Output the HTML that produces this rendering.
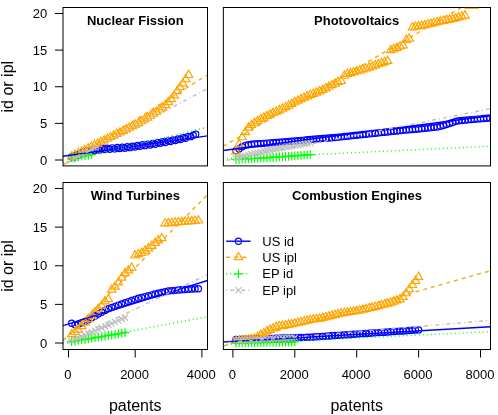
<!DOCTYPE html>
<html><head><meta charset="utf-8"><title>chart</title>
<style>html,body{margin:0;padding:0;background:#fff;}body{width:498px;height:415px;overflow:hidden;position:relative;font-family:"Liberation Sans",sans-serif;}</style>
</head><body>
<svg width="498" height="415" viewBox="0 0 498 415" style="position:absolute;left:0;top:0;will-change:transform" font-family="Liberation Sans, sans-serif">
<rect width="498" height="415" fill="#fff"/>
<defs>
<clipPath id="c0"><rect x="63.0" y="7.5" width="144.5" height="158.4"/></clipPath>
<clipPath id="c1"><rect x="223.35" y="7.5" width="267.15" height="158.4"/></clipPath>
<clipPath id="c2"><rect x="63.0" y="182.5" width="144.5" height="167.0"/></clipPath>
<clipPath id="c3"><rect x="223.35" y="182.5" width="267.15" height="167.0"/></clipPath>
</defs>
<g clip-path="url(#c0)" stroke-width="1.2">
<circle cx="71.70" cy="156.70" r="3.10" fill="none" stroke="#0000ff"/>
<circle cx="74.23" cy="156.89" r="3.10" fill="none" stroke="#0000ff"/>
<circle cx="76.76" cy="154.69" r="3.10" fill="none" stroke="#0000ff"/>
<circle cx="79.29" cy="154.88" r="3.10" fill="none" stroke="#0000ff"/>
<circle cx="81.82" cy="152.78" r="3.10" fill="none" stroke="#0000ff"/>
<circle cx="84.35" cy="153.12" r="3.10" fill="none" stroke="#0000ff"/>
<circle cx="86.88" cy="151.06" r="3.10" fill="none" stroke="#0000ff"/>
<circle cx="89.41" cy="151.40" r="3.10" fill="none" stroke="#0000ff"/>
<circle cx="91.94" cy="149.76" r="3.10" fill="none" stroke="#0000ff"/>
<circle cx="94.48" cy="150.64" r="3.10" fill="none" stroke="#0000ff"/>
<circle cx="97.01" cy="149.12" r="3.10" fill="none" stroke="#0000ff"/>
<circle cx="99.54" cy="150.01" r="3.10" fill="none" stroke="#0000ff"/>
<circle cx="102.07" cy="148.50" r="3.10" fill="none" stroke="#0000ff"/>
<circle cx="104.60" cy="149.54" r="3.10" fill="none" stroke="#0000ff"/>
<circle cx="107.13" cy="148.18" r="3.10" fill="none" stroke="#0000ff"/>
<circle cx="109.66" cy="149.22" r="3.10" fill="none" stroke="#0000ff"/>
<circle cx="112.19" cy="147.86" r="3.10" fill="none" stroke="#0000ff"/>
<circle cx="114.72" cy="148.90" r="3.10" fill="none" stroke="#0000ff"/>
<circle cx="117.25" cy="147.55" r="3.10" fill="none" stroke="#0000ff"/>
<circle cx="119.78" cy="148.59" r="3.10" fill="none" stroke="#0000ff"/>
<circle cx="122.31" cy="147.23" r="3.10" fill="none" stroke="#0000ff"/>
<circle cx="124.84" cy="148.27" r="3.10" fill="none" stroke="#0000ff"/>
<circle cx="127.37" cy="146.82" r="3.10" fill="none" stroke="#0000ff"/>
<circle cx="129.90" cy="147.67" r="3.10" fill="none" stroke="#0000ff"/>
<circle cx="132.43" cy="146.13" r="3.10" fill="none" stroke="#0000ff"/>
<circle cx="134.97" cy="146.99" r="3.10" fill="none" stroke="#0000ff"/>
<circle cx="137.50" cy="145.45" r="3.10" fill="none" stroke="#0000ff"/>
<circle cx="140.03" cy="146.31" r="3.10" fill="none" stroke="#0000ff"/>
<circle cx="142.56" cy="144.77" r="3.10" fill="none" stroke="#0000ff"/>
<circle cx="145.09" cy="145.63" r="3.10" fill="none" stroke="#0000ff"/>
<circle cx="147.62" cy="144.09" r="3.10" fill="none" stroke="#0000ff"/>
<circle cx="150.15" cy="144.95" r="3.10" fill="none" stroke="#0000ff"/>
<circle cx="152.68" cy="143.39" r="3.10" fill="none" stroke="#0000ff"/>
<circle cx="155.21" cy="144.18" r="3.10" fill="none" stroke="#0000ff"/>
<circle cx="157.74" cy="142.57" r="3.10" fill="none" stroke="#0000ff"/>
<circle cx="160.27" cy="143.36" r="3.10" fill="none" stroke="#0000ff"/>
<circle cx="162.80" cy="141.76" r="3.10" fill="none" stroke="#0000ff"/>
<circle cx="165.33" cy="142.54" r="3.10" fill="none" stroke="#0000ff"/>
<circle cx="167.86" cy="140.85" r="3.10" fill="none" stroke="#0000ff"/>
<circle cx="170.39" cy="141.56" r="3.10" fill="none" stroke="#0000ff"/>
<circle cx="172.92" cy="139.88" r="3.10" fill="none" stroke="#0000ff"/>
<circle cx="175.46" cy="140.59" r="3.10" fill="none" stroke="#0000ff"/>
<circle cx="177.99" cy="138.90" r="3.10" fill="none" stroke="#0000ff"/>
<circle cx="180.52" cy="139.47" r="3.10" fill="none" stroke="#0000ff"/>
<circle cx="183.05" cy="137.64" r="3.10" fill="none" stroke="#0000ff"/>
<circle cx="185.58" cy="138.21" r="3.10" fill="none" stroke="#0000ff"/>
<circle cx="188.11" cy="136.37" r="3.10" fill="none" stroke="#0000ff"/>
<circle cx="190.64" cy="136.67" r="3.10" fill="none" stroke="#0000ff"/>
<circle cx="193.17" cy="135.14" r="3.10" fill="none" stroke="#0000ff"/>
<circle cx="195.70" cy="134.20" r="3.10" fill="none" stroke="#0000ff"/>
<path d="M71.70 151.69L75.86 158.90L67.54 158.90Z" fill="none" stroke="#ffa500"/>
<path d="M75.00 150.07L79.17 157.28L70.84 157.28Z" fill="none" stroke="#ffa500"/>
<path d="M78.29 148.45L82.45 155.66L74.13 155.66Z" fill="none" stroke="#ffa500"/>
<path d="M81.57 146.84L85.73 154.05L77.40 154.05Z" fill="none" stroke="#ffa500"/>
<path d="M84.83 145.23L89.00 152.45L80.67 152.45Z" fill="none" stroke="#ffa500"/>
<path d="M88.09 143.63L92.25 150.85L83.92 150.85Z" fill="none" stroke="#ffa500"/>
<path d="M91.33 142.04L95.49 149.25L87.16 149.25Z" fill="none" stroke="#ffa500"/>
<path d="M94.55 140.46L98.72 147.67L90.39 147.67Z" fill="none" stroke="#ffa500"/>
<path d="M97.77 138.88L101.93 146.10L93.61 146.10Z" fill="none" stroke="#ffa500"/>
<path d="M100.97 137.30L105.14 144.51L96.81 144.51Z" fill="none" stroke="#ffa500"/>
<path d="M104.17 135.68L108.33 142.89L100.00 142.89Z" fill="none" stroke="#ffa500"/>
<path d="M107.35 134.06L111.51 141.27L103.18 141.27Z" fill="none" stroke="#ffa500"/>
<path d="M110.51 132.45L114.68 139.67L106.35 139.67Z" fill="none" stroke="#ffa500"/>
<path d="M113.67 130.86L117.83 138.07L109.51 138.07Z" fill="none" stroke="#ffa500"/>
<path d="M116.81 129.29L120.98 136.50L112.65 136.50Z" fill="none" stroke="#ffa500"/>
<path d="M119.94 127.72L124.11 134.93L115.78 134.93Z" fill="none" stroke="#ffa500"/>
<path d="M123.06 126.16L127.23 133.37L118.90 133.37Z" fill="none" stroke="#ffa500"/>
<path d="M126.17 124.61L130.33 131.82L122.01 131.82Z" fill="none" stroke="#ffa500"/>
<path d="M129.26 123.03L133.43 130.25L125.10 130.25Z" fill="none" stroke="#ffa500"/>
<path d="M132.35 121.47L136.51 128.68L128.18 128.68Z" fill="none" stroke="#ffa500"/>
<path d="M135.42 119.91L139.58 127.12L131.25 127.12Z" fill="none" stroke="#ffa500"/>
<path d="M138.47 118.36L142.64 125.57L134.31 125.57Z" fill="none" stroke="#ffa500"/>
<path d="M141.52 116.56L145.68 123.77L137.36 123.77Z" fill="none" stroke="#ffa500"/>
<path d="M144.55 114.72L148.72 121.93L140.39 121.93Z" fill="none" stroke="#ffa500"/>
<path d="M147.58 112.88L151.74 120.09L143.41 120.09Z" fill="none" stroke="#ffa500"/>
<path d="M150.59 111.05L154.75 118.26L146.42 118.26Z" fill="none" stroke="#ffa500"/>
<path d="M153.58 109.06L157.75 116.27L149.42 116.27Z" fill="none" stroke="#ffa500"/>
<path d="M156.57 106.92L160.73 114.14L152.40 114.14Z" fill="none" stroke="#ffa500"/>
<path d="M159.54 104.80L163.70 112.01L155.38 112.01Z" fill="none" stroke="#ffa500"/>
<path d="M162.50 102.68L166.67 109.89L158.34 109.89Z" fill="none" stroke="#ffa500"/>
<path d="M165.45 100.43L169.61 107.64L161.29 107.64Z" fill="none" stroke="#ffa500"/>
<path d="M168.39 97.42L172.55 104.63L164.22 104.63Z" fill="none" stroke="#ffa500"/>
<path d="M171.31 94.42L175.47 101.63L167.15 101.63Z" fill="none" stroke="#ffa500"/>
<path d="M174.22 90.73L178.39 97.94L170.06 97.94Z" fill="none" stroke="#ffa500"/>
<path d="M177.12 86.33L181.29 93.54L172.96 93.54Z" fill="none" stroke="#ffa500"/>
<path d="M180.01 82.40L184.17 89.61L175.85 89.61Z" fill="none" stroke="#ffa500"/>
<path d="M182.89 78.70L187.05 85.91L178.72 85.91Z" fill="none" stroke="#ffa500"/>
<path d="M185.75 74.52L189.91 81.73L181.58 81.73Z" fill="none" stroke="#ffa500"/>
<path d="M188.60 70.29L192.76 77.50L184.44 77.50Z" fill="none" stroke="#ffa500"/>
<path d="M67.30 157.80H76.07M71.68 153.42V162.18" fill="none" stroke="#00ff00"/>
<path d="M70.64 157.25H79.40M75.02 152.87V161.64" fill="none" stroke="#00ff00"/>
<path d="M73.97 156.70H82.74M78.35 152.32V161.09" fill="none" stroke="#00ff00"/>
<path d="M77.31 156.15H86.07M81.69 151.77V160.54" fill="none" stroke="#00ff00"/>
<path d="M80.64 155.60H89.41M85.02 151.22V159.99" fill="none" stroke="#00ff00"/>
<path d="M83.98 155.05H92.74M88.36 150.67V159.44" fill="none" stroke="#00ff00"/>
<path d="M87.31 154.50H96.08M91.69 150.12V158.88" fill="none" stroke="#00ff00"/>
<path d="M68.58 156.50L74.78 162.70M68.58 162.70L74.78 156.50" fill="none" stroke="#bebebe"/>
<path d="M71.92 154.82L78.12 161.02M71.92 161.02L78.12 154.82" fill="none" stroke="#bebebe"/>
<path d="M75.25 153.13L81.45 159.33M75.25 159.33L81.45 153.13" fill="none" stroke="#bebebe"/>
<path d="M78.59 151.44L84.79 157.64M78.59 157.64L84.79 151.44" fill="none" stroke="#bebebe"/>
<path d="M81.92 149.75L88.12 155.95M81.92 155.95L88.12 149.75" fill="none" stroke="#bebebe"/>
<path d="M85.26 148.06L91.46 154.26M85.26 154.26L91.46 148.06" fill="none" stroke="#bebebe"/>
<path d="M88.59 146.37L94.79 152.57M88.59 152.57L94.79 146.37" fill="none" stroke="#bebebe"/>
<path d="M91.93 144.70L98.13 150.90M91.93 150.90L98.13 144.70" fill="none" stroke="#bebebe"/>
<path d="M63.00 156.30L207.50 135.90" fill="none" stroke="#0000ff" stroke-width="1.4"/>
<path d="M63.00 165.00L207.50 74.80" fill="none" stroke="#ffa500" stroke-width="1.4" stroke-dasharray="4 4"/>
<path d="M63.00 162.50L207.50 127.10" fill="none" stroke="#00ff00" stroke-width="1.4" stroke-dasharray="1 3"/>
<path d="M63.00 164.90L207.50 88.60" fill="none" stroke="#bebebe" stroke-width="1.4" stroke-dasharray="1 3 4 3"/>
</g>
<g clip-path="url(#c1)" stroke-width="1.2">
<circle cx="236.00" cy="150.80" r="3.10" fill="none" stroke="#0000ff"/>
<circle cx="239.09" cy="148.88" r="3.10" fill="none" stroke="#0000ff"/>
<circle cx="242.19" cy="146.70" r="3.10" fill="none" stroke="#0000ff"/>
<circle cx="245.28" cy="145.35" r="3.10" fill="none" stroke="#0000ff"/>
<circle cx="248.38" cy="144.68" r="3.10" fill="none" stroke="#0000ff"/>
<circle cx="251.47" cy="144.29" r="3.10" fill="none" stroke="#0000ff"/>
<circle cx="254.56" cy="144.05" r="3.10" fill="none" stroke="#0000ff"/>
<circle cx="257.66" cy="143.81" r="3.10" fill="none" stroke="#0000ff"/>
<circle cx="260.75" cy="143.58" r="3.10" fill="none" stroke="#0000ff"/>
<circle cx="263.85" cy="143.34" r="3.10" fill="none" stroke="#0000ff"/>
<circle cx="266.94" cy="143.10" r="3.10" fill="none" stroke="#0000ff"/>
<circle cx="270.04" cy="142.87" r="3.10" fill="none" stroke="#0000ff"/>
<circle cx="273.13" cy="142.62" r="3.10" fill="none" stroke="#0000ff"/>
<circle cx="276.23" cy="142.38" r="3.10" fill="none" stroke="#0000ff"/>
<circle cx="279.32" cy="142.13" r="3.10" fill="none" stroke="#0000ff"/>
<circle cx="282.42" cy="141.89" r="3.10" fill="none" stroke="#0000ff"/>
<circle cx="285.51" cy="141.64" r="3.10" fill="none" stroke="#0000ff"/>
<circle cx="288.61" cy="141.40" r="3.10" fill="none" stroke="#0000ff"/>
<circle cx="291.70" cy="141.16" r="3.10" fill="none" stroke="#0000ff"/>
<circle cx="294.80" cy="140.91" r="3.10" fill="none" stroke="#0000ff"/>
<circle cx="297.89" cy="140.67" r="3.10" fill="none" stroke="#0000ff"/>
<circle cx="300.99" cy="140.41" r="3.10" fill="none" stroke="#0000ff"/>
<circle cx="304.09" cy="140.11" r="3.10" fill="none" stroke="#0000ff"/>
<circle cx="307.18" cy="139.82" r="3.10" fill="none" stroke="#0000ff"/>
<circle cx="310.27" cy="139.52" r="3.10" fill="none" stroke="#0000ff"/>
<circle cx="313.37" cy="139.23" r="3.10" fill="none" stroke="#0000ff"/>
<circle cx="316.47" cy="138.94" r="3.10" fill="none" stroke="#0000ff"/>
<circle cx="319.56" cy="138.64" r="3.10" fill="none" stroke="#0000ff"/>
<circle cx="322.65" cy="138.41" r="3.10" fill="none" stroke="#0000ff"/>
<circle cx="325.75" cy="138.18" r="3.10" fill="none" stroke="#0000ff"/>
<circle cx="328.85" cy="137.95" r="3.10" fill="none" stroke="#0000ff"/>
<circle cx="331.94" cy="137.72" r="3.10" fill="none" stroke="#0000ff"/>
<circle cx="335.03" cy="137.50" r="3.10" fill="none" stroke="#0000ff"/>
<circle cx="338.13" cy="137.17" r="3.10" fill="none" stroke="#0000ff"/>
<circle cx="341.23" cy="136.84" r="3.10" fill="none" stroke="#0000ff"/>
<circle cx="344.32" cy="136.51" r="3.10" fill="none" stroke="#0000ff"/>
<circle cx="347.42" cy="136.19" r="3.10" fill="none" stroke="#0000ff"/>
<circle cx="350.51" cy="135.86" r="3.10" fill="none" stroke="#0000ff"/>
<circle cx="353.61" cy="135.53" r="3.10" fill="none" stroke="#0000ff"/>
<circle cx="356.70" cy="135.20" r="3.10" fill="none" stroke="#0000ff"/>
<circle cx="359.80" cy="134.88" r="3.10" fill="none" stroke="#0000ff"/>
<circle cx="362.89" cy="134.55" r="3.10" fill="none" stroke="#0000ff"/>
<circle cx="365.99" cy="134.22" r="3.10" fill="none" stroke="#0000ff"/>
<circle cx="369.08" cy="133.90" r="3.10" fill="none" stroke="#0000ff"/>
<circle cx="372.18" cy="133.57" r="3.10" fill="none" stroke="#0000ff"/>
<circle cx="375.27" cy="133.24" r="3.10" fill="none" stroke="#0000ff"/>
<circle cx="378.37" cy="132.91" r="3.10" fill="none" stroke="#0000ff"/>
<circle cx="381.46" cy="132.59" r="3.10" fill="none" stroke="#0000ff"/>
<circle cx="384.56" cy="132.26" r="3.10" fill="none" stroke="#0000ff"/>
<circle cx="387.65" cy="131.93" r="3.10" fill="none" stroke="#0000ff"/>
<circle cx="390.75" cy="131.60" r="3.10" fill="none" stroke="#0000ff"/>
<circle cx="393.84" cy="131.28" r="3.10" fill="none" stroke="#0000ff"/>
<circle cx="396.94" cy="130.95" r="3.10" fill="none" stroke="#0000ff"/>
<circle cx="400.03" cy="130.66" r="3.10" fill="none" stroke="#0000ff"/>
<circle cx="403.12" cy="130.37" r="3.10" fill="none" stroke="#0000ff"/>
<circle cx="406.22" cy="130.09" r="3.10" fill="none" stroke="#0000ff"/>
<circle cx="409.31" cy="129.80" r="3.10" fill="none" stroke="#0000ff"/>
<circle cx="412.41" cy="129.52" r="3.10" fill="none" stroke="#0000ff"/>
<circle cx="415.50" cy="129.23" r="3.10" fill="none" stroke="#0000ff"/>
<circle cx="418.60" cy="128.95" r="3.10" fill="none" stroke="#0000ff"/>
<circle cx="421.69" cy="128.63" r="3.10" fill="none" stroke="#0000ff"/>
<circle cx="424.79" cy="128.30" r="3.10" fill="none" stroke="#0000ff"/>
<circle cx="427.88" cy="127.98" r="3.10" fill="none" stroke="#0000ff"/>
<circle cx="430.98" cy="127.65" r="3.10" fill="none" stroke="#0000ff"/>
<circle cx="434.07" cy="127.33" r="3.10" fill="none" stroke="#0000ff"/>
<circle cx="437.17" cy="127.00" r="3.10" fill="none" stroke="#0000ff"/>
<circle cx="440.26" cy="126.23" r="3.10" fill="none" stroke="#0000ff"/>
<circle cx="443.36" cy="125.45" r="3.10" fill="none" stroke="#0000ff"/>
<circle cx="446.45" cy="124.51" r="3.10" fill="none" stroke="#0000ff"/>
<circle cx="449.55" cy="123.56" r="3.10" fill="none" stroke="#0000ff"/>
<circle cx="452.64" cy="122.48" r="3.10" fill="none" stroke="#0000ff"/>
<circle cx="455.74" cy="121.36" r="3.10" fill="none" stroke="#0000ff"/>
<circle cx="458.83" cy="120.73" r="3.10" fill="none" stroke="#0000ff"/>
<circle cx="461.93" cy="120.44" r="3.10" fill="none" stroke="#0000ff"/>
<circle cx="465.02" cy="120.16" r="3.10" fill="none" stroke="#0000ff"/>
<circle cx="468.12" cy="119.87" r="3.10" fill="none" stroke="#0000ff"/>
<circle cx="471.22" cy="119.60" r="3.10" fill="none" stroke="#0000ff"/>
<circle cx="474.31" cy="119.34" r="3.10" fill="none" stroke="#0000ff"/>
<circle cx="477.40" cy="119.08" r="3.10" fill="none" stroke="#0000ff"/>
<circle cx="480.50" cy="118.83" r="3.10" fill="none" stroke="#0000ff"/>
<circle cx="483.60" cy="118.57" r="3.10" fill="none" stroke="#0000ff"/>
<circle cx="486.69" cy="118.31" r="3.10" fill="none" stroke="#0000ff"/>
<circle cx="489.78" cy="118.02" r="3.10" fill="none" stroke="#0000ff"/>
<path d="M236.00 146.69L240.16 153.90L231.83 153.90Z" fill="none" stroke="#ffa500"/>
<path d="M239.09 139.49L243.25 146.70L234.93 146.70Z" fill="none" stroke="#ffa500"/>
<path d="M242.19 132.55L246.35 139.76L238.02 139.76Z" fill="none" stroke="#ffa500"/>
<path d="M245.28 127.36L249.44 134.57L241.12 134.57Z" fill="none" stroke="#ffa500"/>
<path d="M248.38 122.89L252.54 130.10L244.21 130.10Z" fill="none" stroke="#ffa500"/>
<path d="M251.47 120.09L255.63 127.30L247.31 127.30Z" fill="none" stroke="#ffa500"/>
<path d="M254.56 118.19L258.73 125.40L250.40 125.40Z" fill="none" stroke="#ffa500"/>
<path d="M257.66 116.29L261.82 123.50L253.50 123.50Z" fill="none" stroke="#ffa500"/>
<path d="M260.75 114.45L264.92 121.66L256.59 121.66Z" fill="none" stroke="#ffa500"/>
<path d="M263.85 112.84L268.01 120.05L259.69 120.05Z" fill="none" stroke="#ffa500"/>
<path d="M266.94 111.23L271.11 118.44L262.78 118.44Z" fill="none" stroke="#ffa500"/>
<path d="M270.04 109.62L274.20 116.84L265.88 116.84Z" fill="none" stroke="#ffa500"/>
<path d="M273.13 108.27L277.30 115.48L268.97 115.48Z" fill="none" stroke="#ffa500"/>
<path d="M276.23 106.92L280.39 114.13L272.07 114.13Z" fill="none" stroke="#ffa500"/>
<path d="M279.32 105.57L283.49 112.79L275.16 112.79Z" fill="none" stroke="#ffa500"/>
<path d="M282.42 104.04L286.58 111.25L278.26 111.25Z" fill="none" stroke="#ffa500"/>
<path d="M285.51 102.43L289.68 109.64L281.35 109.64Z" fill="none" stroke="#ffa500"/>
<path d="M288.61 100.82L292.77 108.03L284.45 108.03Z" fill="none" stroke="#ffa500"/>
<path d="M291.70 99.19L295.87 106.41L287.54 106.41Z" fill="none" stroke="#ffa500"/>
<path d="M294.80 97.55L298.96 104.77L290.64 104.77Z" fill="none" stroke="#ffa500"/>
<path d="M297.89 95.91L302.06 103.13L293.73 103.13Z" fill="none" stroke="#ffa500"/>
<path d="M300.99 94.35L305.15 101.56L296.83 101.56Z" fill="none" stroke="#ffa500"/>
<path d="M304.09 93.00L308.25 100.21L299.92 100.21Z" fill="none" stroke="#ffa500"/>
<path d="M307.18 91.65L311.34 98.86L303.02 98.86Z" fill="none" stroke="#ffa500"/>
<path d="M310.27 90.30L314.44 97.52L306.11 97.52Z" fill="none" stroke="#ffa500"/>
<path d="M313.37 89.06L317.53 96.28L309.21 96.28Z" fill="none" stroke="#ffa500"/>
<path d="M316.47 87.83L320.63 95.04L312.30 95.04Z" fill="none" stroke="#ffa500"/>
<path d="M319.56 86.59L323.72 93.80L315.40 93.80Z" fill="none" stroke="#ffa500"/>
<path d="M322.65 85.13L326.82 92.34L318.49 92.34Z" fill="none" stroke="#ffa500"/>
<path d="M325.75 83.59L329.91 90.81L321.59 90.81Z" fill="none" stroke="#ffa500"/>
<path d="M328.85 82.06L333.01 89.27L324.68 89.27Z" fill="none" stroke="#ffa500"/>
<path d="M331.94 80.49L336.10 87.70L327.78 87.70Z" fill="none" stroke="#ffa500"/>
<path d="M335.03 78.88L339.20 86.09L330.87 86.09Z" fill="none" stroke="#ffa500"/>
<path d="M338.13 77.27L342.29 84.48L333.97 84.48Z" fill="none" stroke="#ffa500"/>
<path d="M341.23 76.29L345.39 83.50L337.06 83.50Z" fill="none" stroke="#ffa500"/>
<path d="M344.32 71.01L348.48 78.23L340.16 78.23Z" fill="none" stroke="#ffa500"/>
<path d="M347.42 69.31L351.58 76.52L343.25 76.52Z" fill="none" stroke="#ffa500"/>
<path d="M350.51 68.39L354.67 75.60L346.35 75.60Z" fill="none" stroke="#ffa500"/>
<path d="M353.61 67.46L357.77 74.68L349.44 74.68Z" fill="none" stroke="#ffa500"/>
<path d="M356.70 66.54L360.86 73.75L352.54 73.75Z" fill="none" stroke="#ffa500"/>
<path d="M359.80 65.62L363.96 72.83L355.63 72.83Z" fill="none" stroke="#ffa500"/>
<path d="M362.89 64.69L367.05 71.91L358.73 71.91Z" fill="none" stroke="#ffa500"/>
<path d="M365.99 63.77L370.15 70.98L361.82 70.98Z" fill="none" stroke="#ffa500"/>
<path d="M369.08 62.82L373.24 70.03L364.92 70.03Z" fill="none" stroke="#ffa500"/>
<path d="M372.18 61.73L376.34 68.94L368.01 68.94Z" fill="none" stroke="#ffa500"/>
<path d="M375.27 60.63L379.43 67.84L371.11 67.84Z" fill="none" stroke="#ffa500"/>
<path d="M378.37 59.54L382.53 66.75L374.20 66.75Z" fill="none" stroke="#ffa500"/>
<path d="M381.46 58.44L385.62 65.65L377.30 65.65Z" fill="none" stroke="#ffa500"/>
<path d="M384.56 57.35L388.72 64.56L380.39 64.56Z" fill="none" stroke="#ffa500"/>
<path d="M387.65 56.25L391.81 63.46L383.49 63.46Z" fill="none" stroke="#ffa500"/>
<path d="M390.75 45.35L394.91 52.56L386.58 52.56Z" fill="none" stroke="#ffa500"/>
<path d="M393.84 44.56L398.00 51.77L389.68 51.77Z" fill="none" stroke="#ffa500"/>
<path d="M396.94 43.17L401.10 50.39L392.77 50.39Z" fill="none" stroke="#ffa500"/>
<path d="M400.03 41.63L404.19 48.84L395.87 48.84Z" fill="none" stroke="#ffa500"/>
<path d="M403.12 40.79L407.29 48.00L398.96 48.00Z" fill="none" stroke="#ffa500"/>
<path d="M406.22 35.08L410.38 42.29L402.06 42.29Z" fill="none" stroke="#ffa500"/>
<path d="M409.31 33.81L413.48 41.03L405.15 41.03Z" fill="none" stroke="#ffa500"/>
<path d="M412.41 22.59L416.57 29.80L408.25 29.80Z" fill="none" stroke="#ffa500"/>
<path d="M415.50 22.06L419.67 29.27L411.34 29.27Z" fill="none" stroke="#ffa500"/>
<path d="M418.60 21.53L422.76 28.74L414.44 28.74Z" fill="none" stroke="#ffa500"/>
<path d="M421.69 21.00L425.86 28.21L417.53 28.21Z" fill="none" stroke="#ffa500"/>
<path d="M424.79 20.46L428.95 27.68L420.63 27.68Z" fill="none" stroke="#ffa500"/>
<path d="M427.88 19.77L432.05 26.98L423.72 26.98Z" fill="none" stroke="#ffa500"/>
<path d="M430.98 19.00L435.14 26.21L426.82 26.21Z" fill="none" stroke="#ffa500"/>
<path d="M434.07 18.22L438.24 25.44L429.91 25.44Z" fill="none" stroke="#ffa500"/>
<path d="M437.17 17.45L441.33 24.66L433.01 24.66Z" fill="none" stroke="#ffa500"/>
<path d="M440.26 16.68L444.43 23.89L436.10 23.89Z" fill="none" stroke="#ffa500"/>
<path d="M443.36 16.06L447.52 23.28L439.20 23.28Z" fill="none" stroke="#ffa500"/>
<path d="M446.45 15.45L450.62 22.66L442.29 22.66Z" fill="none" stroke="#ffa500"/>
<path d="M449.55 14.84L453.71 22.05L445.39 22.05Z" fill="none" stroke="#ffa500"/>
<path d="M452.64 14.20L456.81 21.41L448.48 21.41Z" fill="none" stroke="#ffa500"/>
<path d="M455.74 13.35L459.90 20.57L451.58 20.57Z" fill="none" stroke="#ffa500"/>
<path d="M458.83 12.51L463.00 19.72L454.67 19.72Z" fill="none" stroke="#ffa500"/>
<path d="M461.93 11.67L466.09 18.88L457.77 18.88Z" fill="none" stroke="#ffa500"/>
<path d="M465.02 10.82L469.19 18.03L460.86 18.03Z" fill="none" stroke="#ffa500"/>
<path d="M231.61 159.50H240.38M236.00 155.12V163.88" fill="none" stroke="#00ff00"/>
<path d="M234.71 159.33H243.47M239.09 154.95V163.72" fill="none" stroke="#00ff00"/>
<path d="M237.80 159.16H246.57M242.19 154.78V163.55" fill="none" stroke="#00ff00"/>
<path d="M240.90 158.99H249.66M245.28 154.61V163.38" fill="none" stroke="#00ff00"/>
<path d="M243.99 158.83H252.76M248.38 154.44V163.21" fill="none" stroke="#00ff00"/>
<path d="M247.09 158.66H255.85M251.47 154.27V163.04" fill="none" stroke="#00ff00"/>
<path d="M250.18 158.49H258.95M254.56 154.11V162.87" fill="none" stroke="#00ff00"/>
<path d="M253.28 158.32H262.04M257.66 153.94V162.70" fill="none" stroke="#00ff00"/>
<path d="M256.37 158.15H265.14M260.75 153.77V162.54" fill="none" stroke="#00ff00"/>
<path d="M259.47 157.98H268.23M263.85 153.60V162.37" fill="none" stroke="#00ff00"/>
<path d="M262.56 157.82H271.33M266.94 153.43V162.20" fill="none" stroke="#00ff00"/>
<path d="M265.66 157.65H274.42M270.04 153.26V162.03" fill="none" stroke="#00ff00"/>
<path d="M268.75 157.43H277.52M273.13 153.05V161.82" fill="none" stroke="#00ff00"/>
<path d="M271.85 157.20H280.61M276.23 152.82V161.59" fill="none" stroke="#00ff00"/>
<path d="M274.94 156.97H283.71M279.32 152.59V161.35" fill="none" stroke="#00ff00"/>
<path d="M278.04 156.74H286.80M282.42 152.35V161.12" fill="none" stroke="#00ff00"/>
<path d="M281.13 156.51H289.90M285.51 152.12V160.89" fill="none" stroke="#00ff00"/>
<path d="M284.23 156.28H292.99M288.61 151.89V160.66" fill="none" stroke="#00ff00"/>
<path d="M287.32 156.04H296.09M291.70 151.66V160.43" fill="none" stroke="#00ff00"/>
<path d="M290.42 155.81H299.18M294.80 151.43V160.20" fill="none" stroke="#00ff00"/>
<path d="M293.51 155.58H302.28M297.89 151.20V159.96" fill="none" stroke="#00ff00"/>
<path d="M296.61 155.35H305.37M300.99 150.96V159.73" fill="none" stroke="#00ff00"/>
<path d="M299.70 155.12H308.47M304.09 150.73V159.50" fill="none" stroke="#00ff00"/>
<path d="M302.80 154.89H311.56M307.18 150.50V159.27" fill="none" stroke="#00ff00"/>
<path d="M305.89 154.65H314.66M310.27 150.27V159.04" fill="none" stroke="#00ff00"/>
<path d="M232.90 155.20L239.09 161.40M232.90 161.40L239.09 155.20" fill="none" stroke="#bebebe"/>
<path d="M235.99 154.38L242.19 160.58M235.99 160.58L242.19 154.38" fill="none" stroke="#bebebe"/>
<path d="M239.09 153.57L245.28 159.77M239.09 159.77L245.28 153.57" fill="none" stroke="#bebebe"/>
<path d="M242.18 152.75L248.38 158.95M242.18 158.95L248.38 152.75" fill="none" stroke="#bebebe"/>
<path d="M245.28 151.93L251.47 158.13M245.28 158.13L251.47 151.93" fill="none" stroke="#bebebe"/>
<path d="M248.37 151.13L254.57 157.33M248.37 157.33L254.57 151.13" fill="none" stroke="#bebebe"/>
<path d="M251.47 150.36L257.67 156.56M251.47 156.56L257.67 150.36" fill="none" stroke="#bebebe"/>
<path d="M254.56 149.59L260.76 155.78M254.56 155.78L260.76 149.59" fill="none" stroke="#bebebe"/>
<path d="M257.65 148.81L263.86 155.01M257.65 155.01L263.86 148.81" fill="none" stroke="#bebebe"/>
<path d="M260.75 148.04L266.95 154.24M260.75 154.24L266.95 148.04" fill="none" stroke="#bebebe"/>
<path d="M263.84 147.26L270.05 153.46M263.84 153.46L270.05 147.26" fill="none" stroke="#bebebe"/>
<path d="M266.94 146.56L273.14 152.76M266.94 152.76L273.14 146.56" fill="none" stroke="#bebebe"/>
<path d="M270.03 146.03L276.24 152.23M270.03 152.23L276.24 146.03" fill="none" stroke="#bebebe"/>
<path d="M273.13 145.51L279.33 151.71M273.13 151.71L279.33 145.51" fill="none" stroke="#bebebe"/>
<path d="M276.22 144.98L282.43 151.18M276.22 151.18L282.43 144.98" fill="none" stroke="#bebebe"/>
<path d="M279.32 144.46L285.52 150.66M279.32 150.66L285.52 144.46" fill="none" stroke="#bebebe"/>
<path d="M282.41 143.93L288.62 150.13M282.41 150.13L288.62 143.93" fill="none" stroke="#bebebe"/>
<path d="M285.51 143.41L291.71 149.61M285.51 149.61L291.71 143.41" fill="none" stroke="#bebebe"/>
<path d="M288.60 142.89L294.81 149.09M288.60 149.09L294.81 142.89" fill="none" stroke="#bebebe"/>
<path d="M291.70 142.36L297.90 148.56M291.70 148.56L297.90 142.36" fill="none" stroke="#bebebe"/>
<path d="M294.79 141.84L301.00 148.04M294.79 148.04L301.00 141.84" fill="none" stroke="#bebebe"/>
<path d="M297.89 141.31L304.09 147.51M297.89 147.51L304.09 141.31" fill="none" stroke="#bebebe"/>
<path d="M300.99 140.79L307.19 146.99M300.99 146.99L307.19 140.79" fill="none" stroke="#bebebe"/>
<path d="M304.08 140.26L310.28 146.46M304.08 146.46L310.28 140.26" fill="none" stroke="#bebebe"/>
<path d="M307.17 139.74L313.38 145.94M307.17 145.94L313.38 139.74" fill="none" stroke="#bebebe"/>
<path d="M223.00 150.50L490.50 115.80" fill="none" stroke="#0000ff" stroke-width="1.4"/>
<path d="M223.00 146.30L490.50 -9.57" fill="none" stroke="#ffa500" stroke-width="1.4" stroke-dasharray="4 4"/>
<path d="M223.00 158.90L490.50 146.20" fill="none" stroke="#00ff00" stroke-width="1.4" stroke-dasharray="1 3"/>
<path d="M223.00 161.20L490.50 108.80" fill="none" stroke="#bebebe" stroke-width="1.4" stroke-dasharray="1 3 4 3"/>
</g>
<g clip-path="url(#c2)" stroke-width="1.2">
<circle cx="71.68" cy="323.24" r="3.10" fill="none" stroke="#0000ff"/>
<circle cx="75.02" cy="324.82" r="3.10" fill="none" stroke="#0000ff"/>
<circle cx="78.35" cy="323.91" r="3.10" fill="none" stroke="#0000ff"/>
<circle cx="81.69" cy="322.68" r="3.10" fill="none" stroke="#0000ff"/>
<circle cx="85.02" cy="321.43" r="3.10" fill="none" stroke="#0000ff"/>
<circle cx="88.36" cy="319.67" r="3.10" fill="none" stroke="#0000ff"/>
<circle cx="91.69" cy="317.74" r="3.10" fill="none" stroke="#0000ff"/>
<circle cx="95.03" cy="315.89" r="3.10" fill="none" stroke="#0000ff"/>
<circle cx="98.36" cy="314.06" r="3.10" fill="none" stroke="#0000ff"/>
<circle cx="101.70" cy="312.22" r="3.10" fill="none" stroke="#0000ff"/>
<circle cx="105.03" cy="310.39" r="3.10" fill="none" stroke="#0000ff"/>
<circle cx="108.37" cy="308.77" r="3.10" fill="none" stroke="#0000ff"/>
<circle cx="111.70" cy="307.55" r="3.10" fill="none" stroke="#0000ff"/>
<circle cx="115.04" cy="306.33" r="3.10" fill="none" stroke="#0000ff"/>
<circle cx="118.38" cy="305.10" r="3.10" fill="none" stroke="#0000ff"/>
<circle cx="121.71" cy="303.88" r="3.10" fill="none" stroke="#0000ff"/>
<circle cx="125.04" cy="302.74" r="3.10" fill="none" stroke="#0000ff"/>
<circle cx="128.38" cy="301.61" r="3.10" fill="none" stroke="#0000ff"/>
<circle cx="131.71" cy="300.49" r="3.10" fill="none" stroke="#0000ff"/>
<circle cx="135.05" cy="299.36" r="3.10" fill="none" stroke="#0000ff"/>
<circle cx="138.38" cy="298.32" r="3.10" fill="none" stroke="#0000ff"/>
<circle cx="141.72" cy="297.46" r="3.10" fill="none" stroke="#0000ff"/>
<circle cx="145.06" cy="296.60" r="3.10" fill="none" stroke="#0000ff"/>
<circle cx="148.39" cy="295.74" r="3.10" fill="none" stroke="#0000ff"/>
<circle cx="151.72" cy="294.87" r="3.10" fill="none" stroke="#0000ff"/>
<circle cx="155.06" cy="294.06" r="3.10" fill="none" stroke="#0000ff"/>
<circle cx="158.39" cy="293.26" r="3.10" fill="none" stroke="#0000ff"/>
<circle cx="161.73" cy="292.46" r="3.10" fill="none" stroke="#0000ff"/>
<circle cx="165.06" cy="291.66" r="3.10" fill="none" stroke="#0000ff"/>
<circle cx="168.40" cy="291.00" r="3.10" fill="none" stroke="#0000ff"/>
<circle cx="171.73" cy="290.67" r="3.10" fill="none" stroke="#0000ff"/>
<circle cx="175.07" cy="290.34" r="3.10" fill="none" stroke="#0000ff"/>
<circle cx="178.40" cy="290.01" r="3.10" fill="none" stroke="#0000ff"/>
<circle cx="181.74" cy="289.68" r="3.10" fill="none" stroke="#0000ff"/>
<circle cx="185.07" cy="289.46" r="3.10" fill="none" stroke="#0000ff"/>
<circle cx="188.41" cy="289.28" r="3.10" fill="none" stroke="#0000ff"/>
<circle cx="191.75" cy="289.10" r="3.10" fill="none" stroke="#0000ff"/>
<circle cx="195.08" cy="288.91" r="3.10" fill="none" stroke="#0000ff"/>
<circle cx="198.41" cy="288.73" r="3.10" fill="none" stroke="#0000ff"/>
<path d="M71.68 329.39L75.85 336.60L67.52 336.60Z" fill="none" stroke="#ffa500"/>
<path d="M75.02 327.28L79.18 334.49L70.86 334.49Z" fill="none" stroke="#ffa500"/>
<path d="M78.35 325.13L82.52 332.34L74.19 332.34Z" fill="none" stroke="#ffa500"/>
<path d="M81.69 321.40L85.85 328.61L77.53 328.61Z" fill="none" stroke="#ffa500"/>
<path d="M85.02 317.67L89.19 324.88L80.86 324.88Z" fill="none" stroke="#ffa500"/>
<path d="M88.36 314.43L92.52 321.64L84.20 321.64Z" fill="none" stroke="#ffa500"/>
<path d="M91.69 311.20L95.86 318.41L87.53 318.41Z" fill="none" stroke="#ffa500"/>
<path d="M95.03 307.40L99.19 314.61L90.87 314.61Z" fill="none" stroke="#ffa500"/>
<path d="M98.36 304.18L102.53 311.39L94.20 311.39Z" fill="none" stroke="#ffa500"/>
<path d="M101.70 300.98L105.86 308.19L97.54 308.19Z" fill="none" stroke="#ffa500"/>
<path d="M105.03 296.57L109.20 303.78L100.87 303.78Z" fill="none" stroke="#ffa500"/>
<path d="M108.37 294.45L112.53 301.67L104.21 301.67Z" fill="none" stroke="#ffa500"/>
<path d="M111.70 284.99L115.87 292.20L107.54 292.20Z" fill="none" stroke="#ffa500"/>
<path d="M115.04 281.85L119.20 289.06L110.88 289.06Z" fill="none" stroke="#ffa500"/>
<path d="M118.38 277.70L122.54 284.91L114.21 284.91Z" fill="none" stroke="#ffa500"/>
<path d="M121.71 272.91L125.87 280.13L117.55 280.13Z" fill="none" stroke="#ffa500"/>
<path d="M125.04 268.38L129.21 275.59L120.88 275.59Z" fill="none" stroke="#ffa500"/>
<path d="M128.38 265.71L132.54 272.92L124.22 272.92Z" fill="none" stroke="#ffa500"/>
<path d="M131.71 263.04L135.88 270.25L127.55 270.25Z" fill="none" stroke="#ffa500"/>
<path d="M135.05 250.77L139.21 257.98L130.89 257.98Z" fill="none" stroke="#ffa500"/>
<path d="M138.38 249.46L142.55 256.67L134.22 256.67Z" fill="none" stroke="#ffa500"/>
<path d="M141.72 248.11L145.88 255.32L137.56 255.32Z" fill="none" stroke="#ffa500"/>
<path d="M145.06 245.90L149.22 253.11L140.89 253.11Z" fill="none" stroke="#ffa500"/>
<path d="M148.39 243.69L152.55 250.90L144.23 250.90Z" fill="none" stroke="#ffa500"/>
<path d="M151.72 241.08L155.89 248.29L147.56 248.29Z" fill="none" stroke="#ffa500"/>
<path d="M155.06 238.13L159.22 245.34L150.90 245.34Z" fill="none" stroke="#ffa500"/>
<path d="M158.39 235.54L162.56 242.76L154.23 242.76Z" fill="none" stroke="#ffa500"/>
<path d="M161.73 233.36L165.89 240.57L157.57 240.57Z" fill="none" stroke="#ffa500"/>
<path d="M165.06 218.59L169.23 225.80L160.90 225.80Z" fill="none" stroke="#ffa500"/>
<path d="M168.40 218.33L172.56 225.55L164.24 225.55Z" fill="none" stroke="#ffa500"/>
<path d="M171.73 218.08L175.90 225.29L167.57 225.29Z" fill="none" stroke="#ffa500"/>
<path d="M175.07 217.82L179.23 225.03L170.91 225.03Z" fill="none" stroke="#ffa500"/>
<path d="M178.40 217.56L182.57 224.77L174.24 224.77Z" fill="none" stroke="#ffa500"/>
<path d="M181.74 217.30L185.90 224.51L177.58 224.51Z" fill="none" stroke="#ffa500"/>
<path d="M185.07 217.01L189.24 224.22L180.91 224.22Z" fill="none" stroke="#ffa500"/>
<path d="M188.41 216.71L192.57 223.92L184.25 223.92Z" fill="none" stroke="#ffa500"/>
<path d="M191.75 216.41L195.91 223.62L187.58 223.62Z" fill="none" stroke="#ffa500"/>
<path d="M195.08 216.10L199.24 223.32L190.92 223.32Z" fill="none" stroke="#ffa500"/>
<path d="M198.41 215.80L202.58 223.01L194.25 223.01Z" fill="none" stroke="#ffa500"/>
<path d="M67.30 341.60H76.07M71.68 337.22V345.98" fill="none" stroke="#00ff00"/>
<path d="M70.64 341.04H79.40M75.02 336.66V345.43" fill="none" stroke="#00ff00"/>
<path d="M73.97 340.48H82.74M78.35 336.10V344.87" fill="none" stroke="#00ff00"/>
<path d="M77.31 339.92H86.07M81.69 335.54V344.31" fill="none" stroke="#00ff00"/>
<path d="M80.64 339.36H89.41M85.02 334.98V343.75" fill="none" stroke="#00ff00"/>
<path d="M83.98 338.80H92.74M88.36 334.42V343.19" fill="none" stroke="#00ff00"/>
<path d="M87.31 338.24H96.08M91.69 333.86V342.63" fill="none" stroke="#00ff00"/>
<path d="M90.65 337.68H99.41M95.03 333.30V342.07" fill="none" stroke="#00ff00"/>
<path d="M93.98 337.12H102.75M98.36 332.74V341.51" fill="none" stroke="#00ff00"/>
<path d="M97.32 336.56H106.08M101.70 332.18V340.95" fill="none" stroke="#00ff00"/>
<path d="M100.65 336.00H109.42M105.03 331.62V340.39" fill="none" stroke="#00ff00"/>
<path d="M103.99 335.44H112.75M108.37 331.06V339.83" fill="none" stroke="#00ff00"/>
<path d="M107.32 334.88H116.09M111.70 330.50V339.27" fill="none" stroke="#00ff00"/>
<path d="M110.66 334.32H119.42M115.04 329.94V338.71" fill="none" stroke="#00ff00"/>
<path d="M113.99 333.76H122.76M118.38 329.38V338.15" fill="none" stroke="#00ff00"/>
<path d="M117.33 333.20H126.09M121.71 328.82V337.59" fill="none" stroke="#00ff00"/>
<path d="M120.66 332.64H129.43M125.04 328.26V337.03" fill="none" stroke="#00ff00"/>
<path d="M68.58 337.90L74.78 344.10M68.58 344.10L74.78 337.90" fill="none" stroke="#bebebe"/>
<path d="M71.92 336.45L78.12 342.65M71.92 342.65L78.12 336.45" fill="none" stroke="#bebebe"/>
<path d="M75.25 334.98L81.45 341.18M75.25 341.18L81.45 334.98" fill="none" stroke="#bebebe"/>
<path d="M78.59 333.52L84.79 339.72M78.59 339.72L84.79 333.52" fill="none" stroke="#bebebe"/>
<path d="M81.92 332.06L88.12 338.26M81.92 338.26L88.12 332.06" fill="none" stroke="#bebebe"/>
<path d="M85.26 330.60L91.46 336.80M85.26 336.80L91.46 330.60" fill="none" stroke="#bebebe"/>
<path d="M88.59 329.14L94.79 335.34M88.59 335.34L94.79 329.14" fill="none" stroke="#bebebe"/>
<path d="M91.93 327.68L98.13 333.88M91.93 333.88L98.13 327.68" fill="none" stroke="#bebebe"/>
<path d="M95.27 326.22L101.46 332.42M95.27 332.42L101.46 326.22" fill="none" stroke="#bebebe"/>
<path d="M98.60 324.75L104.80 330.95M98.60 330.95L104.80 324.75" fill="none" stroke="#bebebe"/>
<path d="M101.94 323.29L108.13 329.49M101.94 329.49L108.13 323.29" fill="none" stroke="#bebebe"/>
<path d="M105.27 321.83L111.47 328.03M105.27 328.03L111.47 321.83" fill="none" stroke="#bebebe"/>
<path d="M108.60 320.37L114.80 326.57M108.60 326.57L114.80 320.37" fill="none" stroke="#bebebe"/>
<path d="M111.94 318.91L118.14 325.11M111.94 325.11L118.14 318.91" fill="none" stroke="#bebebe"/>
<path d="M115.28 317.45L121.47 323.65M115.28 323.65L121.47 317.45" fill="none" stroke="#bebebe"/>
<path d="M118.61 315.99L124.81 322.19M118.61 322.19L124.81 315.99" fill="none" stroke="#bebebe"/>
<path d="M121.94 314.53L128.14 320.73M121.94 320.73L128.14 314.53" fill="none" stroke="#bebebe"/>
<path d="M63.00 325.70L207.50 280.50" fill="none" stroke="#0000ff" stroke-width="1.4"/>
<path d="M63.00 340.50L207.50 194.70" fill="none" stroke="#ffa500" stroke-width="1.4" stroke-dasharray="4 4"/>
<path d="M63.00 343.70L207.50 316.70" fill="none" stroke="#00ff00" stroke-width="1.4" stroke-dasharray="1 3"/>
<path d="M63.00 343.50L207.50 274.60" fill="none" stroke="#bebebe" stroke-width="1.4" stroke-dasharray="1 3 4 3"/>
</g>
<g clip-path="url(#c3)" stroke-width="1.2">
<circle cx="236.00" cy="339.50" r="3.10" fill="none" stroke="#0000ff"/>
<circle cx="239.09" cy="339.40" r="3.10" fill="none" stroke="#0000ff"/>
<circle cx="242.19" cy="339.30" r="3.10" fill="none" stroke="#0000ff"/>
<circle cx="245.28" cy="339.21" r="3.10" fill="none" stroke="#0000ff"/>
<circle cx="248.38" cy="339.11" r="3.10" fill="none" stroke="#0000ff"/>
<circle cx="251.47" cy="339.01" r="3.10" fill="none" stroke="#0000ff"/>
<circle cx="254.56" cy="338.91" r="3.10" fill="none" stroke="#0000ff"/>
<circle cx="257.66" cy="338.82" r="3.10" fill="none" stroke="#0000ff"/>
<circle cx="260.75" cy="338.72" r="3.10" fill="none" stroke="#0000ff"/>
<circle cx="263.85" cy="338.62" r="3.10" fill="none" stroke="#0000ff"/>
<circle cx="266.94" cy="338.52" r="3.10" fill="none" stroke="#0000ff"/>
<circle cx="270.04" cy="338.43" r="3.10" fill="none" stroke="#0000ff"/>
<circle cx="273.13" cy="338.33" r="3.10" fill="none" stroke="#0000ff"/>
<circle cx="276.23" cy="338.23" r="3.10" fill="none" stroke="#0000ff"/>
<circle cx="279.32" cy="338.13" r="3.10" fill="none" stroke="#0000ff"/>
<circle cx="282.42" cy="338.03" r="3.10" fill="none" stroke="#0000ff"/>
<circle cx="285.51" cy="337.94" r="3.10" fill="none" stroke="#0000ff"/>
<circle cx="288.61" cy="337.84" r="3.10" fill="none" stroke="#0000ff"/>
<circle cx="291.70" cy="337.74" r="3.10" fill="none" stroke="#0000ff"/>
<circle cx="294.80" cy="337.64" r="3.10" fill="none" stroke="#0000ff"/>
<circle cx="297.89" cy="337.55" r="3.10" fill="none" stroke="#0000ff"/>
<circle cx="300.99" cy="337.45" r="3.10" fill="none" stroke="#0000ff"/>
<circle cx="304.09" cy="337.35" r="3.10" fill="none" stroke="#0000ff"/>
<circle cx="307.18" cy="337.25" r="3.10" fill="none" stroke="#0000ff"/>
<circle cx="310.27" cy="337.15" r="3.10" fill="none" stroke="#0000ff"/>
<circle cx="313.37" cy="337.01" r="3.10" fill="none" stroke="#0000ff"/>
<circle cx="316.47" cy="336.80" r="3.10" fill="none" stroke="#0000ff"/>
<circle cx="319.56" cy="336.59" r="3.10" fill="none" stroke="#0000ff"/>
<circle cx="322.65" cy="336.38" r="3.10" fill="none" stroke="#0000ff"/>
<circle cx="325.75" cy="336.17" r="3.10" fill="none" stroke="#0000ff"/>
<circle cx="328.85" cy="335.96" r="3.10" fill="none" stroke="#0000ff"/>
<circle cx="331.94" cy="335.75" r="3.10" fill="none" stroke="#0000ff"/>
<circle cx="335.03" cy="335.54" r="3.10" fill="none" stroke="#0000ff"/>
<circle cx="338.13" cy="335.34" r="3.10" fill="none" stroke="#0000ff"/>
<circle cx="341.23" cy="335.13" r="3.10" fill="none" stroke="#0000ff"/>
<circle cx="344.32" cy="334.92" r="3.10" fill="none" stroke="#0000ff"/>
<circle cx="347.42" cy="334.71" r="3.10" fill="none" stroke="#0000ff"/>
<circle cx="350.51" cy="334.50" r="3.10" fill="none" stroke="#0000ff"/>
<circle cx="353.61" cy="334.29" r="3.10" fill="none" stroke="#0000ff"/>
<circle cx="356.70" cy="334.08" r="3.10" fill="none" stroke="#0000ff"/>
<circle cx="359.80" cy="333.87" r="3.10" fill="none" stroke="#0000ff"/>
<circle cx="362.89" cy="333.66" r="3.10" fill="none" stroke="#0000ff"/>
<circle cx="365.99" cy="333.45" r="3.10" fill="none" stroke="#0000ff"/>
<circle cx="369.08" cy="333.24" r="3.10" fill="none" stroke="#0000ff"/>
<circle cx="372.18" cy="333.04" r="3.10" fill="none" stroke="#0000ff"/>
<circle cx="375.27" cy="332.83" r="3.10" fill="none" stroke="#0000ff"/>
<circle cx="378.37" cy="332.62" r="3.10" fill="none" stroke="#0000ff"/>
<circle cx="381.46" cy="332.41" r="3.10" fill="none" stroke="#0000ff"/>
<circle cx="384.56" cy="332.20" r="3.10" fill="none" stroke="#0000ff"/>
<circle cx="387.65" cy="331.99" r="3.10" fill="none" stroke="#0000ff"/>
<circle cx="390.75" cy="331.78" r="3.10" fill="none" stroke="#0000ff"/>
<circle cx="393.84" cy="331.57" r="3.10" fill="none" stroke="#0000ff"/>
<circle cx="396.94" cy="331.36" r="3.10" fill="none" stroke="#0000ff"/>
<circle cx="400.03" cy="331.15" r="3.10" fill="none" stroke="#0000ff"/>
<circle cx="403.12" cy="330.95" r="3.10" fill="none" stroke="#0000ff"/>
<circle cx="406.22" cy="330.74" r="3.10" fill="none" stroke="#0000ff"/>
<circle cx="409.31" cy="330.53" r="3.10" fill="none" stroke="#0000ff"/>
<circle cx="412.41" cy="330.32" r="3.10" fill="none" stroke="#0000ff"/>
<circle cx="415.50" cy="330.11" r="3.10" fill="none" stroke="#0000ff"/>
<circle cx="418.60" cy="329.90" r="3.10" fill="none" stroke="#0000ff"/>
<path d="M236.00 336.19L240.16 343.40L231.83 343.40Z" fill="none" stroke="#ffa500"/>
<path d="M239.09 335.82L243.25 343.04L234.93 343.04Z" fill="none" stroke="#ffa500"/>
<path d="M242.19 335.46L246.35 342.67L238.02 342.67Z" fill="none" stroke="#ffa500"/>
<path d="M245.28 335.09L249.44 342.30L241.12 342.30Z" fill="none" stroke="#ffa500"/>
<path d="M248.38 334.72L252.54 341.93L244.21 341.93Z" fill="none" stroke="#ffa500"/>
<path d="M251.47 334.35L255.63 341.56L247.31 341.56Z" fill="none" stroke="#ffa500"/>
<path d="M254.56 333.95L258.73 341.17L250.40 341.17Z" fill="none" stroke="#ffa500"/>
<path d="M257.66 332.13L261.82 339.34L253.50 339.34Z" fill="none" stroke="#ffa500"/>
<path d="M260.75 330.30L264.92 337.51L256.59 337.51Z" fill="none" stroke="#ffa500"/>
<path d="M263.85 328.47L268.01 335.68L259.69 335.68Z" fill="none" stroke="#ffa500"/>
<path d="M266.94 326.64L271.11 333.85L262.78 333.85Z" fill="none" stroke="#ffa500"/>
<path d="M270.04 325.10L274.20 332.32L265.88 332.32Z" fill="none" stroke="#ffa500"/>
<path d="M273.13 323.59L277.30 330.80L268.97 330.80Z" fill="none" stroke="#ffa500"/>
<path d="M276.23 322.09L280.39 329.30L272.07 329.30Z" fill="none" stroke="#ffa500"/>
<path d="M279.32 321.54L283.49 328.75L275.16 328.75Z" fill="none" stroke="#ffa500"/>
<path d="M282.42 320.99L286.58 328.20L278.26 328.20Z" fill="none" stroke="#ffa500"/>
<path d="M285.51 320.44L289.68 327.66L281.35 327.66Z" fill="none" stroke="#ffa500"/>
<path d="M288.61 319.90L292.77 327.11L284.45 327.11Z" fill="none" stroke="#ffa500"/>
<path d="M291.70 319.35L295.87 326.56L287.54 326.56Z" fill="none" stroke="#ffa500"/>
<path d="M294.80 318.78L298.96 325.99L290.64 325.99Z" fill="none" stroke="#ffa500"/>
<path d="M297.89 318.06L302.06 325.27L293.73 325.27Z" fill="none" stroke="#ffa500"/>
<path d="M300.99 317.34L305.15 324.55L296.83 324.55Z" fill="none" stroke="#ffa500"/>
<path d="M304.09 316.63L308.25 323.84L299.92 323.84Z" fill="none" stroke="#ffa500"/>
<path d="M307.18 315.91L311.34 323.12L303.02 323.12Z" fill="none" stroke="#ffa500"/>
<path d="M310.27 315.19L314.44 322.40L306.11 322.40Z" fill="none" stroke="#ffa500"/>
<path d="M313.37 314.62L317.53 321.83L309.21 321.83Z" fill="none" stroke="#ffa500"/>
<path d="M316.47 314.23L320.63 321.44L312.30 321.44Z" fill="none" stroke="#ffa500"/>
<path d="M319.56 313.83L323.72 321.05L315.40 321.05Z" fill="none" stroke="#ffa500"/>
<path d="M322.65 313.13L326.82 320.34L318.49 320.34Z" fill="none" stroke="#ffa500"/>
<path d="M325.75 312.38L329.91 319.59L321.59 319.59Z" fill="none" stroke="#ffa500"/>
<path d="M328.85 311.63L333.01 318.85L324.68 318.85Z" fill="none" stroke="#ffa500"/>
<path d="M331.94 310.89L336.10 318.10L327.78 318.10Z" fill="none" stroke="#ffa500"/>
<path d="M335.03 310.14L339.20 317.35L330.87 317.35Z" fill="none" stroke="#ffa500"/>
<path d="M338.13 309.39L342.29 316.61L333.97 316.61Z" fill="none" stroke="#ffa500"/>
<path d="M341.23 308.76L345.39 315.97L337.06 315.97Z" fill="none" stroke="#ffa500"/>
<path d="M344.32 308.26L348.48 315.47L340.16 315.47Z" fill="none" stroke="#ffa500"/>
<path d="M347.42 307.76L351.58 314.97L343.25 314.97Z" fill="none" stroke="#ffa500"/>
<path d="M350.51 307.26L354.67 314.47L346.35 314.47Z" fill="none" stroke="#ffa500"/>
<path d="M353.61 306.76L357.77 313.97L349.44 313.97Z" fill="none" stroke="#ffa500"/>
<path d="M356.70 306.26L360.86 313.47L352.54 313.47Z" fill="none" stroke="#ffa500"/>
<path d="M359.80 305.75L363.96 312.96L355.63 312.96Z" fill="none" stroke="#ffa500"/>
<path d="M362.89 305.01L367.05 312.23L358.73 312.23Z" fill="none" stroke="#ffa500"/>
<path d="M365.99 304.28L370.15 311.50L361.82 311.50Z" fill="none" stroke="#ffa500"/>
<path d="M369.08 303.55L373.24 310.77L364.92 310.77Z" fill="none" stroke="#ffa500"/>
<path d="M372.18 302.82L376.34 310.03L368.01 310.03Z" fill="none" stroke="#ffa500"/>
<path d="M375.27 302.09L379.43 309.30L371.11 309.30Z" fill="none" stroke="#ffa500"/>
<path d="M378.37 301.36L382.53 308.57L374.20 308.57Z" fill="none" stroke="#ffa500"/>
<path d="M381.46 300.55L385.62 307.76L377.30 307.76Z" fill="none" stroke="#ffa500"/>
<path d="M384.56 299.69L388.72 306.91L380.39 306.91Z" fill="none" stroke="#ffa500"/>
<path d="M387.65 298.84L391.81 306.05L383.49 306.05Z" fill="none" stroke="#ffa500"/>
<path d="M390.75 297.98L394.91 305.20L386.58 305.20Z" fill="none" stroke="#ffa500"/>
<path d="M393.84 296.92L398.00 304.13L389.68 304.13Z" fill="none" stroke="#ffa500"/>
<path d="M396.94 295.74L401.10 302.95L392.77 302.95Z" fill="none" stroke="#ffa500"/>
<path d="M400.03 294.44L404.19 301.66L395.87 301.66Z" fill="none" stroke="#ffa500"/>
<path d="M403.12 292.12L407.29 299.34L398.96 299.34Z" fill="none" stroke="#ffa500"/>
<path d="M406.22 288.54L410.38 295.75L402.06 295.75Z" fill="none" stroke="#ffa500"/>
<path d="M409.31 284.56L413.48 291.77L405.15 291.77Z" fill="none" stroke="#ffa500"/>
<path d="M412.41 280.29L416.57 287.51L408.25 287.51Z" fill="none" stroke="#ffa500"/>
<path d="M415.50 276.28L419.67 283.50L411.34 283.50Z" fill="none" stroke="#ffa500"/>
<path d="M418.60 272.09L422.76 279.30L414.44 279.30Z" fill="none" stroke="#ffa500"/>
<path d="M231.61 343.00H240.38M236.00 338.62V347.38" fill="none" stroke="#00ff00"/>
<path d="M234.71 342.95H243.47M239.09 338.56V347.33" fill="none" stroke="#00ff00"/>
<path d="M237.80 342.90H246.57M242.19 338.51V347.28" fill="none" stroke="#00ff00"/>
<path d="M240.90 342.84H249.66M245.28 338.46V347.23" fill="none" stroke="#00ff00"/>
<path d="M243.99 342.79H252.76M248.38 338.41V347.17" fill="none" stroke="#00ff00"/>
<path d="M247.09 342.74H255.85M251.47 338.35V347.12" fill="none" stroke="#00ff00"/>
<path d="M250.18 342.69H258.95M254.56 338.30V347.07" fill="none" stroke="#00ff00"/>
<path d="M253.28 342.63H262.04M257.66 338.25V347.02" fill="none" stroke="#00ff00"/>
<path d="M256.37 342.58H265.14M260.75 338.20V346.96" fill="none" stroke="#00ff00"/>
<path d="M259.47 342.53H268.23M263.85 338.14V346.91" fill="none" stroke="#00ff00"/>
<path d="M262.56 342.48H271.33M266.94 338.09V346.86" fill="none" stroke="#00ff00"/>
<path d="M265.66 342.42H274.42M270.04 338.04V346.81" fill="none" stroke="#00ff00"/>
<path d="M268.75 342.37H277.52M273.13 337.99V346.75" fill="none" stroke="#00ff00"/>
<path d="M271.85 342.32H280.61M276.23 337.93V346.70" fill="none" stroke="#00ff00"/>
<path d="M274.94 342.27H283.71M279.32 337.88V346.65" fill="none" stroke="#00ff00"/>
<path d="M278.04 342.21H286.80M282.42 337.83V346.60" fill="none" stroke="#00ff00"/>
<path d="M281.13 342.16H289.90M285.51 337.78V346.54" fill="none" stroke="#00ff00"/>
<path d="M284.23 342.11H292.99M288.61 337.72V346.49" fill="none" stroke="#00ff00"/>
<path d="M287.32 342.06H296.09M291.70 337.67V346.44" fill="none" stroke="#00ff00"/>
<path d="M290.42 342.00H299.18M294.80 337.62V346.39" fill="none" stroke="#00ff00"/>
<path d="M232.90 337.40L239.09 343.60M232.90 343.60L239.09 337.40" fill="none" stroke="#bebebe"/>
<path d="M235.99 337.24L242.19 343.44M235.99 343.44L242.19 337.24" fill="none" stroke="#bebebe"/>
<path d="M239.09 337.09L245.28 343.29M239.09 343.29L245.28 337.09" fill="none" stroke="#bebebe"/>
<path d="M242.18 336.93L248.38 343.13M242.18 343.13L248.38 336.93" fill="none" stroke="#bebebe"/>
<path d="M245.28 336.77L251.47 342.97M245.28 342.97L251.47 336.77" fill="none" stroke="#bebebe"/>
<path d="M248.37 336.61L254.57 342.81M248.37 342.81L254.57 336.61" fill="none" stroke="#bebebe"/>
<path d="M251.47 336.46L257.67 342.66M251.47 342.66L257.67 336.46" fill="none" stroke="#bebebe"/>
<path d="M254.56 336.30L260.76 342.50M254.56 342.50L260.76 336.30" fill="none" stroke="#bebebe"/>
<path d="M257.65 336.14L263.86 342.34M257.65 342.34L263.86 336.14" fill="none" stroke="#bebebe"/>
<path d="M260.75 335.98L266.95 342.18M260.75 342.18L266.95 335.98" fill="none" stroke="#bebebe"/>
<path d="M263.84 335.83L270.05 342.03M263.84 342.03L270.05 335.83" fill="none" stroke="#bebebe"/>
<path d="M266.94 335.67L273.14 341.87M266.94 341.87L273.14 335.67" fill="none" stroke="#bebebe"/>
<path d="M270.03 335.51L276.24 341.71M270.03 341.71L276.24 335.51" fill="none" stroke="#bebebe"/>
<path d="M273.13 335.35L279.33 341.55M273.13 341.55L279.33 335.35" fill="none" stroke="#bebebe"/>
<path d="M276.22 335.20L282.43 341.40M276.22 341.40L282.43 335.20" fill="none" stroke="#bebebe"/>
<path d="M279.32 335.04L285.52 341.24M279.32 341.24L285.52 335.04" fill="none" stroke="#bebebe"/>
<path d="M282.41 334.88L288.62 341.08M282.41 341.08L288.62 334.88" fill="none" stroke="#bebebe"/>
<path d="M285.51 334.72L291.71 340.92M285.51 340.92L291.71 334.72" fill="none" stroke="#bebebe"/>
<path d="M288.60 334.57L294.81 340.77M288.60 340.77L294.81 334.57" fill="none" stroke="#bebebe"/>
<path d="M291.70 334.41L297.90 340.61M291.70 340.61L297.90 334.41" fill="none" stroke="#bebebe"/>
<path d="M223.00 342.00L490.50 326.70" fill="none" stroke="#0000ff" stroke-width="1.4"/>
<path d="M223.00 346.10L490.50 270.70" fill="none" stroke="#ffa500" stroke-width="1.4" stroke-dasharray="4 4"/>
<path d="M223.00 344.60L490.50 331.60" fill="none" stroke="#00ff00" stroke-width="1.4" stroke-dasharray="1 3"/>
<path d="M223.00 343.10L490.50 320.40" fill="none" stroke="#bebebe" stroke-width="1.4" stroke-dasharray="1 3 4 3"/>
</g>
<rect x="63.0" y="7.5" width="144.5" height="158.4" fill="none" stroke="#000" stroke-width="1"/>
<rect x="223.35" y="7.5" width="267.15" height="158.4" fill="none" stroke="#000" stroke-width="1"/>
<rect x="63.0" y="182.5" width="144.5" height="167.0" fill="none" stroke="#000" stroke-width="1"/>
<rect x="223.35" y="182.5" width="267.15" height="167.0" fill="none" stroke="#000" stroke-width="1"/>
<rect x="464.3" y="7.85" width="14.5" height="1.0" fill="#ffa500"/>
<path d="M55.0 160.00H63.0" stroke="#000" stroke-width="1"/>
<text x="47.2" y="164.70" font-size="13" text-anchor="end">0</text>
<path d="M55.0 123.38H63.0" stroke="#000" stroke-width="1"/>
<text x="47.2" y="128.07" font-size="13" text-anchor="end">5</text>
<path d="M55.0 86.75H63.0" stroke="#000" stroke-width="1"/>
<text x="47.2" y="91.45" font-size="13" text-anchor="end">10</text>
<path d="M55.0 50.12H63.0" stroke="#000" stroke-width="1"/>
<text x="47.2" y="54.83" font-size="13" text-anchor="end">15</text>
<path d="M55.0 13.50H63.0" stroke="#000" stroke-width="1"/>
<text x="47.2" y="18.20" font-size="13" text-anchor="end">20</text>
<path d="M55.0 343.00H63.0" stroke="#000" stroke-width="1"/>
<text x="47.2" y="347.70" font-size="13" text-anchor="end">0</text>
<path d="M55.0 304.38H63.0" stroke="#000" stroke-width="1"/>
<text x="47.2" y="309.07" font-size="13" text-anchor="end">5</text>
<path d="M55.0 265.75H63.0" stroke="#000" stroke-width="1"/>
<text x="47.2" y="270.45" font-size="13" text-anchor="end">10</text>
<path d="M55.0 227.12H63.0" stroke="#000" stroke-width="1"/>
<text x="47.2" y="231.82" font-size="13" text-anchor="end">15</text>
<path d="M55.0 188.50H63.0" stroke="#000" stroke-width="1"/>
<text x="47.2" y="193.20" font-size="13" text-anchor="end">20</text>
<path d="M68.50 349.5V357.5" stroke="#000" stroke-width="1"/>
<text x="67.90" y="379" font-size="13" text-anchor="middle">0</text>
<path d="M135.20 349.5V357.5" stroke="#000" stroke-width="1"/>
<text x="134.60" y="379" font-size="13" text-anchor="middle">2000</text>
<path d="M201.90 349.5V357.5" stroke="#000" stroke-width="1"/>
<text x="201.30" y="379" font-size="13" text-anchor="middle">4000</text>
<path d="M232.90 349.5V357.5" stroke="#000" stroke-width="1"/>
<text x="232.30" y="379" font-size="13" text-anchor="middle">0</text>
<path d="M294.80 349.5V357.5" stroke="#000" stroke-width="1"/>
<text x="294.20" y="379" font-size="13" text-anchor="middle">2000</text>
<path d="M356.70 349.5V357.5" stroke="#000" stroke-width="1"/>
<text x="356.10" y="379" font-size="13" text-anchor="middle">4000</text>
<path d="M418.60 349.5V357.5" stroke="#000" stroke-width="1"/>
<text x="418.00" y="379" font-size="13" text-anchor="middle">6000</text>
<path d="M480.50 349.5V357.5" stroke="#000" stroke-width="1"/>
<text x="479.90" y="379" font-size="13" text-anchor="middle">8000</text>
<text x="135.3" y="25" font-size="13" font-weight="bold" text-anchor="middle">Nuclear Fission</text>
<text x="356.7" y="25" font-size="13" font-weight="bold" text-anchor="middle">Photovoltaics</text>
<text x="135.3" y="200.1" font-size="13" font-weight="bold" text-anchor="middle">Wind Turbines</text>
<text x="356.9" y="200.1" font-size="13" font-weight="bold" text-anchor="middle">Combustion Engines</text>
<text x="135.2" y="410.7" font-size="16" text-anchor="middle">patents</text>
<text x="356.7" y="410.7" font-size="16" text-anchor="middle">patents</text>
<text transform="translate(12.5,86.7) rotate(-90)" font-size="16" text-anchor="middle">id or ipl</text>
<text transform="translate(12.5,266) rotate(-90)" font-size="16" text-anchor="middle">id or ipl</text>
<path d="M226.20 241.20L250.70 241.20" fill="none" stroke="#0000ff" stroke-width="1.4"/>
<g stroke-width="1.2"><circle cx="238.45" cy="241.20" r="3.10" fill="none" stroke="#0000ff"/></g>
<text x="262.3" y="245.50" font-size="13">US id</text>
<path d="M226.20 257.30L250.00 257.30" fill="none" stroke="#ffa500" stroke-width="1.4" stroke-dasharray="4 4"/>
<g stroke-width="1.2"><path d="M238.45 252.49L242.61 259.70L234.29 259.70Z" fill="none" stroke="#ffa500"/></g>
<text x="262.3" y="261.60" font-size="13">US ipl</text>
<path d="M226.20 273.80L250.00 273.80" fill="none" stroke="#00ff00" stroke-width="1.4" stroke-dasharray="1 3"/>
<g stroke-width="1.2"><path d="M234.07 273.80H242.83M238.45 269.42V278.18" fill="none" stroke="#00ff00"/></g>
<text x="262.3" y="278.10" font-size="13">EP id</text>
<path d="M226.20 290.20L250.70 290.20" fill="none" stroke="#bebebe" stroke-width="1.4" stroke-dasharray="1 3 4 3"/>
<g stroke-width="1.2"><path d="M235.35 287.10L241.55 293.30M235.35 293.30L241.55 287.10" fill="none" stroke="#bebebe"/></g>
<text x="262.3" y="294.50" font-size="13">EP ipl</text>
</svg>
</body></html>
